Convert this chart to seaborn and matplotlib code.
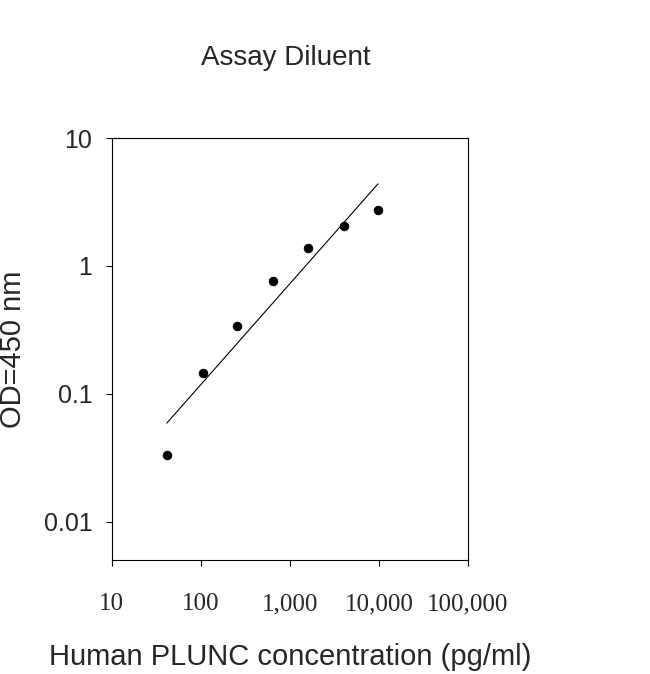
import matplotlib
matplotlib.use("Agg")
import matplotlib.pyplot as plt
import seaborn as sns
import pandas as pd

conc = [41.5, 105, 253, 645, 1590, 4050, 9750]
od = [0.0335, 0.146, 0.34, 0.76, 1.38, 2.05, 2.74]
fit_x = [41.5, 9750]
fit_y = [0.059, 4.39]
xticks = [10, 100, 1000, 10000, 100000]
xticklabels = ["10", "100", "1,000", "10,000", "100,000"]
yticks = [0.01, 0.1, 1, 10]
yticklabels = ["0.01", "0.1", "1", "10"]

sns.set_style("white")
plt.rcParams['font.family'] = ['Liberation Sans', 'DejaVu Sans']
fig = plt.figure(figsize=(6.5, 6.74), dpi=100)
ax = fig.add_axes([0.172, 0.169, 0.548, 0.626])
df = pd.DataFrame({"x": conc, "y": od})
sns.lineplot(x=fit_x, y=fit_y, ax=ax, color="black", linewidth=0.8)
sns.scatterplot(data=df, x="x", y="y", ax=ax, color="black", s=40, edgecolor="black")
ax.set_xscale("log"); ax.set_yscale("log")
ax.set_xlim(10, 100000); ax.set_ylim(0.005, 10)
ax.set_xticks(xticks); ax.set_xticklabels(xticklabels, fontfamily="Liberation Serif", fontsize=18)
ax.set_yticks(yticks); ax.set_yticklabels(yticklabels, fontsize=18)
ax.minorticks_off()
ax.tick_params(direction="out", length=4, color="black", left=True, bottom=True)
ax.tick_params(axis="x", pad=20)
ax.tick_params(axis="y", pad=10)
for s in ax.spines.values():
    s.set_color("black"); s.set_linewidth(0.8)
ax.set_xlabel("Human PLUNC concentration (pg/ml)", fontsize=21, labelpad=20)
ax.set_ylabel("OD=450 nm", fontsize=21, labelpad=12)
fig.text(0.44, 0.914, "Assay Diluent", ha="center", va="center", fontsize=20)
fig.savefig("out.png", dpi=100)
